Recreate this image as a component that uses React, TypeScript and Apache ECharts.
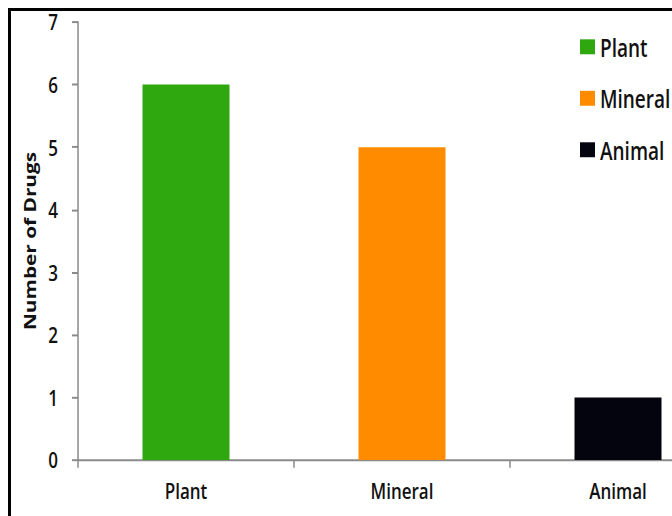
import React, { useEffect, useRef } from "react";
import * as echarts from "echarts";

const categories = ["Plant", "Mineral", "Animal"];
const values = [6, 5, 1];
const colors = ["#2fa70f", "#ff8c00", "#04040f"];
const yTicks = { min: 0, max: 7, interval: 1 };
const yAxisName = "Number of Drugs";

// the reference picture is stretched vertically; reproduce with a CSS scale
const STRETCH = 1.3;
const CHART_H = 516 / STRETCH;

export default function App() {
  const ref = useRef<HTMLDivElement>(null);
  useEffect(() => {
    if (!ref.current) return;
    const chart = echarts.init(ref.current, undefined, { renderer: "svg" });
    const font = "'Open Sans', 'DejaVu Sans', sans-serif";
    const series = categories.map((name, i) => ({
      name,
      type: "bar",
      stack: "all",
      barWidth: 87,
      itemStyle: { color: colors[i] },
      data: categories.map((_, j) => (j === i ? values[i] : null)),
    }));
    const gridTop = 22 / STRETCH;
    const gridBottom = 460 / STRETCH;
    chart.setOption({
      animation: false,
      backgroundColor: "transparent",
      legend: {
        orient: "vertical",
        left: 580,
        top: 26,
        padding: 0,
        itemWidth: 15,
        itemHeight: 11.5,
        itemGap: 19.6,
        icon: "rect",
        data: categories,
        textStyle: { fontFamily: font, fontSize: 19, lineHeight: 20, fontWeight: 600, color: "#111" },
      },
      grid: { left: 78, top: gridTop, width: 648, height: gridBottom - gridTop, containLabel: false },
      xAxis: {
        type: "category",
        data: categories,
        boundaryGap: true,
        axisLine: { lineStyle: { color: "#8a8a8a", width: 1.5 } },
        axisTick: { show: true, length: 6, lineStyle: { color: "#8a8a8a", width: 1.5 } },
        axisLabel: { fontFamily: font, fontSize: 17, fontWeight: 600, color: "#111", margin: 15 },
      },
      yAxis: {
        type: "value",
        min: yTicks.min,
        max: yTicks.max,
        interval: yTicks.interval,
        name: yAxisName,
        nameLocation: "middle",
        nameGap: 35,
        nameTextStyle: { fontFamily: font, fontSize: 16, fontWeight: 700, color: "#111" },
        splitLine: { show: false },
        axisLine: { show: true, lineStyle: { color: "#8a8a8a", width: 1.5 } },
        axisTick: { show: true, length: 6, lineStyle: { color: "#8a8a8a", width: 1.5 } },
        axisLabel: { fontFamily: font, fontSize: 17, fontWeight: 600, color: "#111", margin: 20 },
      },
      series,
    });
    return () => chart.dispose();
  }, []);
  return (
    <div style={{ position: "fixed", left: 0, top: 0, width: 672, height: 516, overflow: "hidden", background: "#fff" }}>
      <div style={{ position: "absolute", left: 8, top: 8, width: 800, height: 600, border: "3px solid #000", boxSizing: "border-box" }} />
      <div
        ref={ref}
        style={{
          position: "absolute",
          left: 0,
          top: 0,
          width: 800,
          height: CHART_H,
          transform: `scaleY(${STRETCH})`,
          transformOrigin: "0 0",
        }}
      />
    </div>
  );
}
